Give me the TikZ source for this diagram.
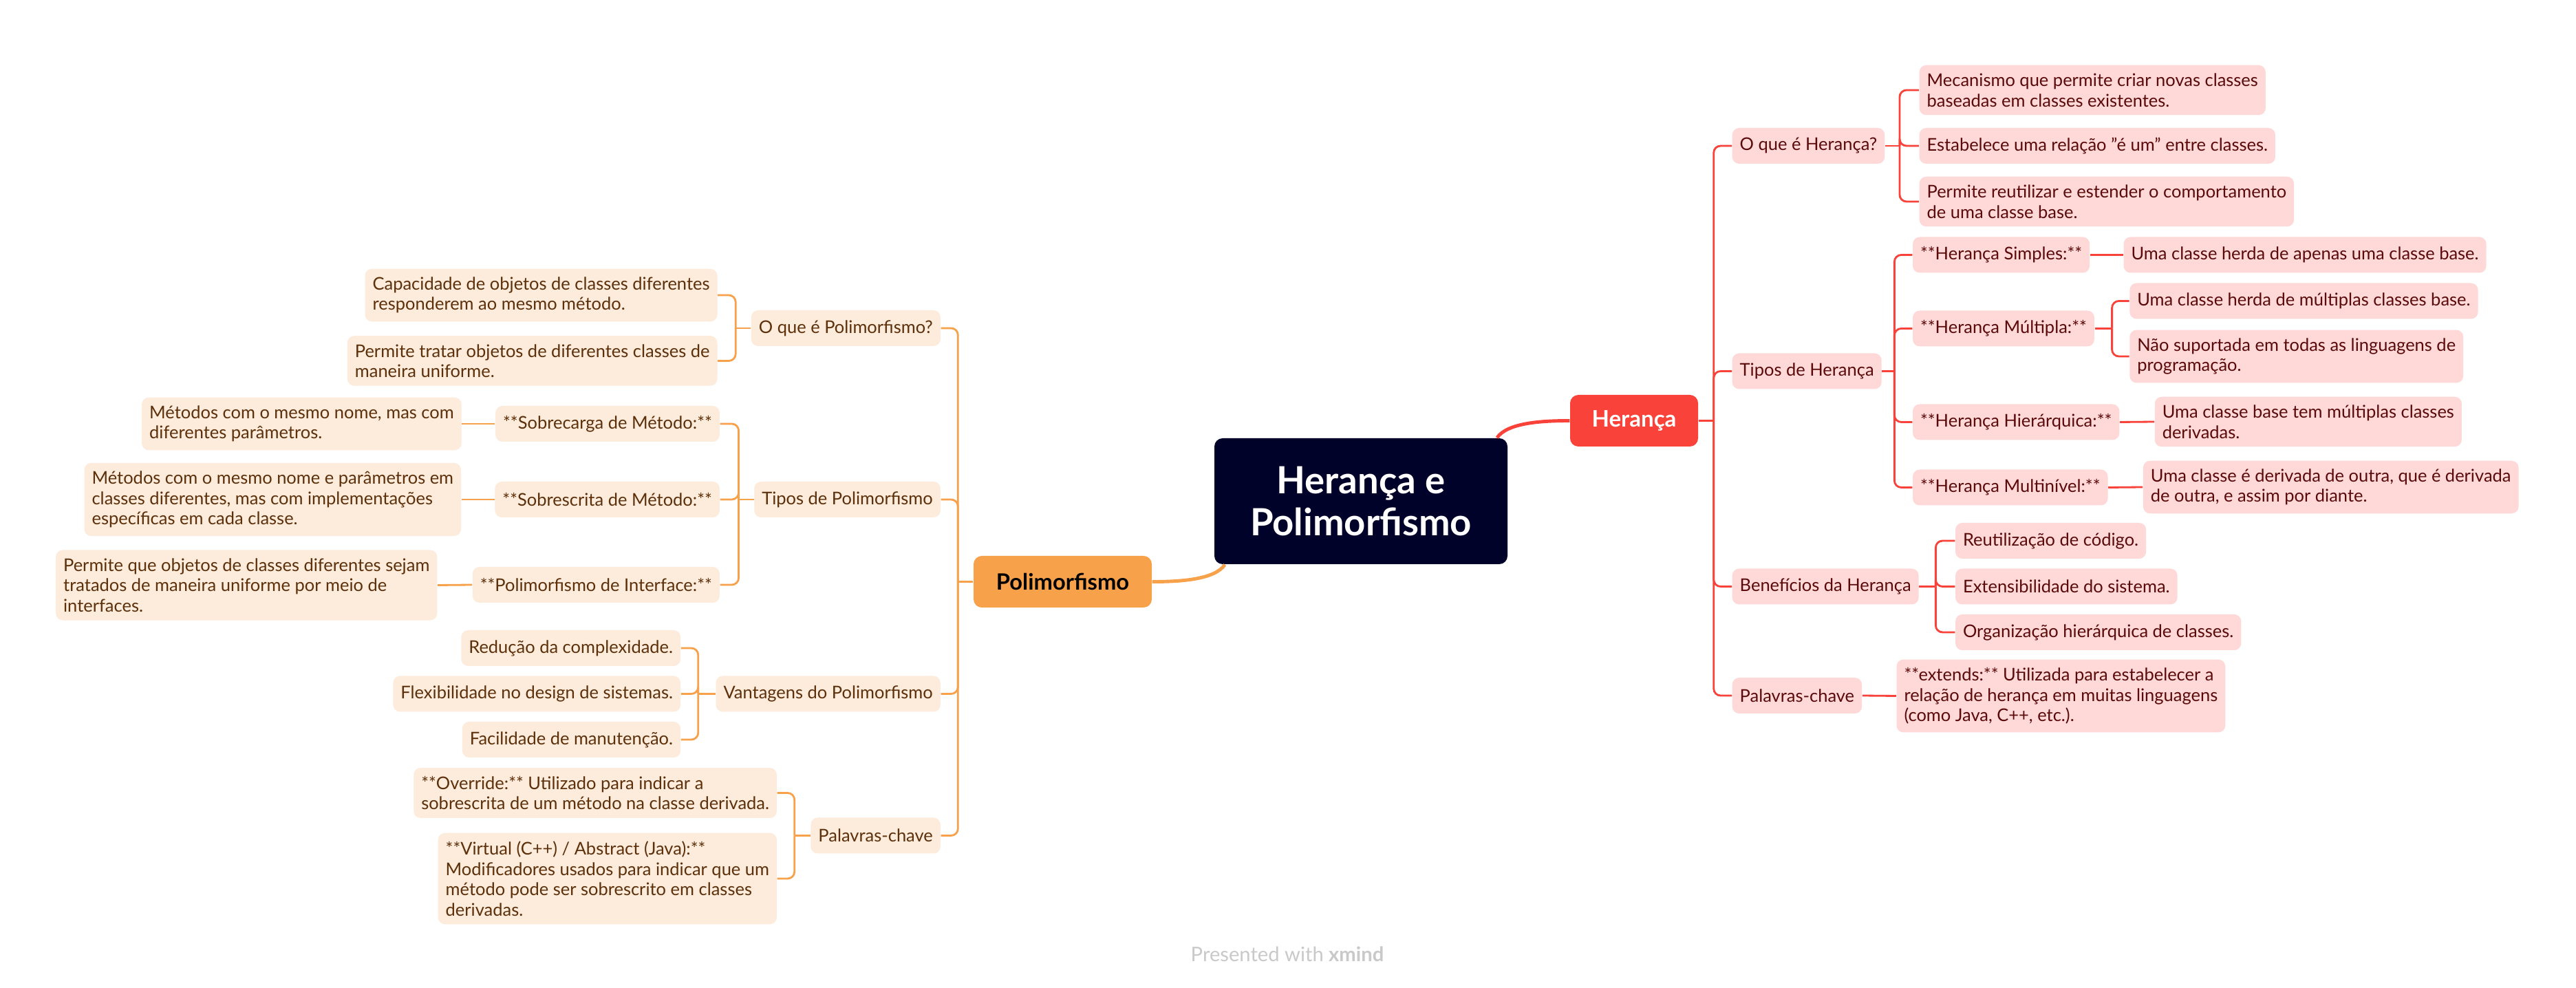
\documentclass[tikz,border=0pt]{standalone}
\usepackage{fontspec}
\setmainfont{Lato}
\usepackage{xcolor}

\definecolor{rootblue}{HTML}{000229}
\definecolor{hred}{HTML}{F9423A}
\definecolor{hpink}{HTML}{FFD9D8}
\definecolor{htext}{HTML}{5A0A0A}
\definecolor{porange}{HTML}{F7A14B}
\definecolor{ppeach}{HTML}{FDEBDB}
\definecolor{ptext}{HTML}{5C300B}
\definecolor{footgray}{HTML}{C9C9C9}

\begin{document}
\begin{tikzpicture}[x=1cm,y=-1cm]
      \tikzstyle{root} = [rectangle, rounded corners=0.12cm, fill=rootblue, text=white, font=\fontsize{15.5}{17.6}\selectfont\bfseries, align=center, minimum width=4.26cm, minimum height=1.83cm]
      \tikzstyle{hmain} = [rectangle, rounded corners=0.12cm, fill=hred, text=white, font=\fontsize{9.4}{11}\selectfont\bfseries, minimum width=1.86cm, minimum height=0.75cm]
      \tikzstyle{pmain} = [rectangle, rounded corners=0.12cm, fill=porange, text=black, font=\fontsize{9.3}{11}\selectfont\bfseries, minimum width=2.59cm, minimum height=0.75cm]
      \tikzstyle{hsub} = [rectangle, rounded corners=0.1cm, fill=hpink, text=htext, font=\fontsize{7.25}{8.4}\selectfont, align=left, inner xsep=0.11cm, inner ysep=0.12cm, minimum height=0.52cm, anchor=west]
      \tikzstyle{psub} = [rectangle, rounded corners=0.1cm, fill=ppeach, text=ptext, font=\fontsize{7.25}{8.4}\selectfont, align=left, inner xsep=0.11cm, inner ysep=0.12cm, minimum height=0.52cm, anchor=east]
      \tikzstyle{hline} = [draw=hred, line width=0.8pt, rounded corners=0.1cm]
      \tikzstyle{pline} = [draw=porange, line width=0.8pt, rounded corners=0.1cm]
      \tikzstyle{mainline} = [line width=1.4pt]

      \fill[white] (0,0) rectangle (37.44,14.36);
      \useasboundingbox (0,0) rectangle (37.44,14.36);

      \node[root] (root) at (19.78,7.285) {Herança e\\Polimorfismo};
      \node[hmain] (her) at (23.75,6.115) {Herança};
      \node[pmain] (pol) at (15.445,8.455) {Polimorfismo};

      \draw[mainline, draw=hred] (root.25) .. controls +(0.15,-0.22) and +(-0.4,0) .. (her.west);
      \draw[mainline, draw=porange] (root.205) .. controls +(-0.15,0.22) and +(0.4,0) .. (pol.east);

      % Herança
      \node[hsub] (hq) at (25.17,2.12) {O que é Herança?};
      \node[hsub] (ht) at (25.17,5.395) {Tipos de Herança};
      \node[hsub] (hb) at (25.17,8.525) {Benefícios da Herança};
      \node[hsub] (hp) at (25.17,10.11) {Palavras-chave};

      \node[hsub, xshift=0.49cm] (hq1) at (hq.east |- 0,1.31) {Mecanismo que permite criar novas classes\\baseadas em classes existentes.};
      \node[hsub, xshift=0.49cm] (hq2) at (hq.east |- 0,2.12) {Estabelece uma relação "é um" entre classes.};
      \node[hsub, xshift=0.49cm] (hq3) at (hq.east |- 0,2.93) {Permite reutilizar e estender o comportamento\\de uma classe base.};

      \node[hsub, xshift=0.44cm] (ht1) at (ht.east |- 0,3.705) {**Herança Simples:**};
      \node[hsub, xshift=0.44cm] (ht2) at (ht.east |- 0,4.775) {**Herança Múltipla:**};
      \node[hsub, xshift=0.44cm] (ht3) at (ht.east |- 0,6.135) {**Herança Hierárquica:**};
      \node[hsub, xshift=0.44cm] (ht4) at (ht.east |- 0,7.085) {**Herança Multinível:**};

      \node[hsub, xshift=0.48cm] (ht1a) at (ht1.east |- 0,3.705) {Uma classe herda de apenas uma classe base.};
      \node[hsub, xshift=0.5cm] (ht2a) at (ht2.east |- 0,4.375) {Uma classe herda de múltiplas classes base.};
      \node[hsub, xshift=0.5cm] (ht2b) at (ht2.east |- 0,5.18) {Não suportada em todas as linguagens de\\programação.};
      \node[hsub, xshift=0.5cm] (ht3a) at (ht3.east |- 0,6.13) {Uma classe base tem múltiplas classes\\derivadas.};
      \node[hsub, xshift=0.5cm] (ht4a) at (ht4.east |- 0,7.08) {Uma classe é derivada de outra, que é derivada\\de outra, e assim por diante.};

      \node[hsub, xshift=0.52cm] (hb1) at (hb.east |- 0,7.86) {Reutilização de código.};
      \node[hsub, xshift=0.52cm] (hb2) at (hb.east |- 0,8.525) {Extensibilidade do sistema.};
      \node[hsub, xshift=0.52cm] (hb3) at (hb.east |- 0,9.19) {Organização hierárquica de classes.};

      \node[hsub, xshift=0.49cm] (hp1) at (hp.east |- 0,10.115) {**extends:** Utilizada para estabelecer a\\relação de herança em muitas linguagens\\(como Java, C++, etc.).};

      \draw[hline] (her.east) -- ++(0.22,0) coordinate (hj);
      \draw[hline] (hj) |- (hq.west);
      \draw[hline] (hj) |- (ht.west);
      \draw[hline] (hj) |- (hb.west);
      \draw[hline] (hj) |- (hp.west);

      \draw[hline] (hq.east) -- ++(0.21,0) coordinate (hqj);
      \draw[hline] (hqj) |- (hq1.west);
      \draw[hline] (hqj) |- (hq2.west);
      \draw[hline] (hqj) |- (hq3.west);

      \draw[hline] (ht.east) -- ++(0.18,0) coordinate (htj);
      \draw[hline] (htj) |- (ht1.west);
      \draw[hline] (htj) |- (ht2.west);
      \draw[hline] (htj) |- (ht3.west);
      \draw[hline] (htj) |- (ht4.west);

      \draw[hline] (ht1.east) -- (ht1a.west);
      \draw[hline] (ht2.east) -- ++(0.25,0) coordinate (ht2j);
      \draw[hline] (ht2j) |- (ht2a.west);
      \draw[hline] (ht2j) |- (ht2b.west);
      \draw[hline] (ht3.east) -- (ht3a.west);
      \draw[hline] (ht4.east) -- (ht4a.west);

      \draw[hline] (hb.east) -- ++(0.24,0) coordinate (hbj);
      \draw[hline] (hbj) |- (hb1.west);
      \draw[hline] (hbj) |- (hb2.west);
      \draw[hline] (hbj) |- (hb3.west);

      \draw[hline] (hp.east) -- (hp1.west);

      % Polimorfismo
      \node[psub] (pq) at (13.675,4.77) {O que é Polimorfismo?};
      \node[psub] (pt) at (13.675,7.26) {Tipos de Polimorfismo};
      \node[psub] (pv) at (13.675,10.085) {Vantagens do Polimorfismo};
      \node[psub] (pp) at (13.675,12.145) {Palavras-chave};

      \node[psub, xshift=-0.48cm] (pq1) at (pq.west |- 0,4.29) {Capacidade de objetos de classes diferentes\\responderem ao mesmo método.};
      \node[psub, xshift=-0.48cm] (pq2) at (pq.west |- 0,5.245) {Permite tratar objetos de diferentes classes de\\maneira uniforme.};

      \node[psub, xshift=-0.49cm] (pt1) at (pt.west |- 0,6.16) {**Sobrecarga de Método:**};
      \node[psub, xshift=-0.49cm] (pt2) at (pt.west |- 0,7.26) {**Sobrescrita de Método:**};
      \node[psub, xshift=-0.49cm] (pt3) at (pt.west |- 0,8.50) {**Polimorfismo de Interface:**};

      \node[psub, xshift=-0.48cm] (pt1a) at (pt1.west |- 0,6.16) {Métodos com o mesmo nome, mas com\\diferentes parâmetros.};
      \node[psub, xshift=-0.48cm] (pt2a) at (pt2.west |- 0,7.26) {Métodos com o mesmo nome e parâmetros em\\classes diferentes, mas com implementações\\específicas em cada classe.};
      \node[psub, xshift=-0.5cm] (pt3a) at (pt3.west |- 0,8.505) {Permite que objetos de classes diferentes sejam\\tratados de maneira uniforme por meio de\\interfaces.};

      \node[psub, xshift=-0.5cm] (pv1) at (pv.west |- 0,9.42) {Redução da complexidade.};
      \node[psub, xshift=-0.5cm] (pv2) at (pv.west |- 0,10.085) {Flexibilidade no design de sistemas.};
      \node[psub, xshift=-0.5cm] (pv3) at (pv.west |- 0,10.75) {Facilidade de manutenção.};

      \node[psub, xshift=-0.48cm] (pp1) at (pp.west |- 0,11.525) {**Override:** Utilizado para indicar a\\sobrescrita de um método na classe derivada.};
      \node[psub, xshift=-0.48cm] (pp2) at (pp.west |- 0,12.77) {**Virtual (C++) / Abstract (Java):**\\Modificadores usados para indicar que um\\método pode ser sobrescrito em classes\\derivadas.};

      \draw[pline] (pol.west) -- ++(-0.22,0) coordinate (pj);
      \draw[pline] (pj) |- (pq.east);
      \draw[pline] (pj) |- (pt.east);
      \draw[pline] (pj) |- (pv.east);
      \draw[pline] (pj) |- (pp.east);

      \draw[pline] (pq.west) -- ++(-0.22,0) coordinate (pqj);
      \draw[pline] (pqj) |- (pq1.east);
      \draw[pline] (pqj) |- (pq2.east);

      \draw[pline] (pt.west) -- ++(-0.22,0) coordinate (ptj);
      \draw[pline] (ptj) |- (pt1.east);
      \draw[pline] (ptj) |- (pt2.east);
      \draw[pline] (ptj) |- (pt3.east);

      \draw[pline] (pt1.west) -- (pt1a.east);
      \draw[pline] (pt2.west) -- (pt2a.east);
      \draw[pline] (pt3.west) -- (pt3a.east);

      \draw[pline] (pv.west) -- ++(-0.25,0) coordinate (pvj);
      \draw[pline] (pvj) |- (pv1.east);
      \draw[pline] (pvj) |- (pv2.east);
      \draw[pline] (pvj) |- (pv3.east);

      \draw[pline] (pp.west) -- ++(-0.23,0) coordinate (ppj);
      \draw[pline] (ppj) |- (pp1.east);
      \draw[pline] (ppj) |- (pp2.east);

      \node[text=footgray, font=\fontsize{8.3}{10}\selectfont] (foot) at (18.71,13.87) {Presented with \textbf{xmind}};
    \end{tikzpicture}
\end{document}
